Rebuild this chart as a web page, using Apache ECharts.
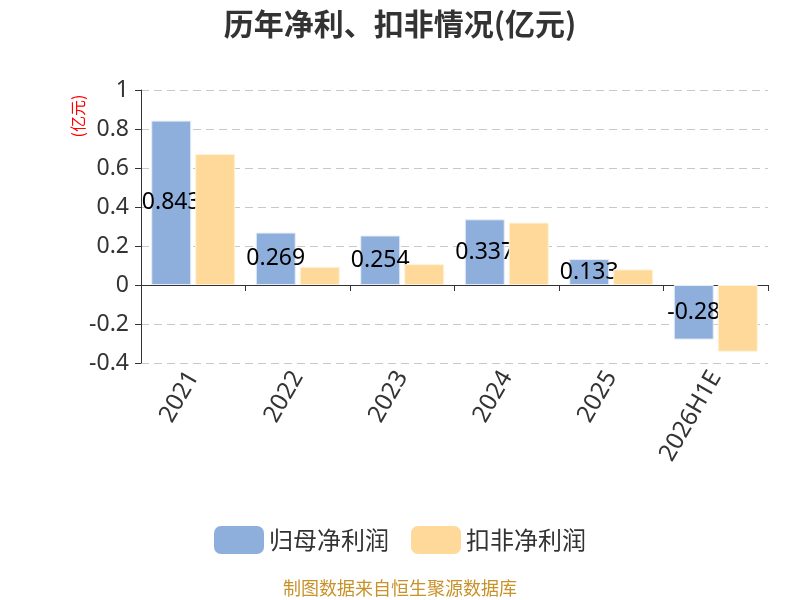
<!DOCTYPE html>
<html><head><meta charset="utf-8">
<script src="https://cdn.jsdelivr.net/npm/echarts@6/dist/echarts.min.js"></script>
<style>html,body{margin:0;padding:0;background:#fff}#c{width:800px;height:600px}</style>
</head><body><div id="c"></div>
<script>
const categories = ['2021','2022','2023','2024','2025','2026H1E'];
const netProfit = [0.843, 0.269, 0.254, 0.337, 0.133, -0.28];
const deductedProfit = [0.672, 0.093, 0.107, 0.32, 0.08, -0.342];
const seriesNames = ['归母净利润','扣非净利润'];

const chart = echarts.init(document.getElementById('c'));
chart.setOption({
  animation: false,
  title: {
    text: '历年净利、扣非情况(亿元)', left: 'center', top: 4,
    textStyle: {fontSize: 30, fontWeight: 'bold', color: '#333', fontFamily: 'Noto Sans CJK SC'}
  },
  graphic: [
    {type: 'text', x: 78, y: 116, rotation: Math.PI/2,
     style: {text: '(亿元)', fill: '#ff0000', font: '16px "Noto Sans CJK SC"', align: 'center', verticalAlign: 'middle'}},
    {type: 'text', left: 'center', top: 579,
     style: {text: '制图数据来自恒生聚源数据库', fill: '#c8922a', font: '18px "Noto Sans CJK SC"'}}
  ],
  legend: {
    data: seriesNames, top: 521, left: 'center',
    itemWidth: 50, itemHeight: 28, itemGap: 22,
    itemStyle: {borderWidth: 0, borderColor: 'transparent'},
    textStyle: {fontSize: 24, color: '#333', fontFamily: 'Noto Sans CJK SC'}
  },
  grid: {left: 141, right: 32, top: 90, bottom: 237, containLabel: false},
  xAxis: {
    type: 'category', data: categories,
    axisLine: {lineStyle: {color: '#333'}},
    axisTick: {show: true, length: 6, lineStyle: {color: '#333'}},
    axisLabel: {rotate: 60, fontSize: 24, color: '#333', margin: 10, interval: 0, fontFamily: 'Noto Sans'}
  },
  yAxis: {
    type: 'value', min: -0.4, max: 1, interval: 0.2,
    axisLine: {show: true, lineStyle: {color: '#333'}},
    axisTick: {show: true, length: 6, lineStyle: {color: '#333'}},
    axisLabel: {fontSize: 23, color: '#333', margin: 12, fontFamily: 'Noto Sans'},
    splitLine: {lineStyle: {type: [8, 5], color: '#c8c8c8'}}
  },
  series: [
    {name: seriesNames[0], type: 'bar', data: netProfit, barWidth: 40, barGap: '10%', z: 2,
     itemStyle: {color: '#8eaedb', borderColor: '#e8eef8', borderWidth: 1},
     label: {show: true, position: 'inside', color: '#000', fontSize: 23, fontFamily: 'Noto Sans'}},
    {name: seriesNames[1], type: 'bar', data: deductedProfit, barWidth: 40, z: 5,
     itemStyle: {color: '#ffd999', borderColor: '#fff3dc', borderWidth: 1}}
  ]
});
</script></body></html>
